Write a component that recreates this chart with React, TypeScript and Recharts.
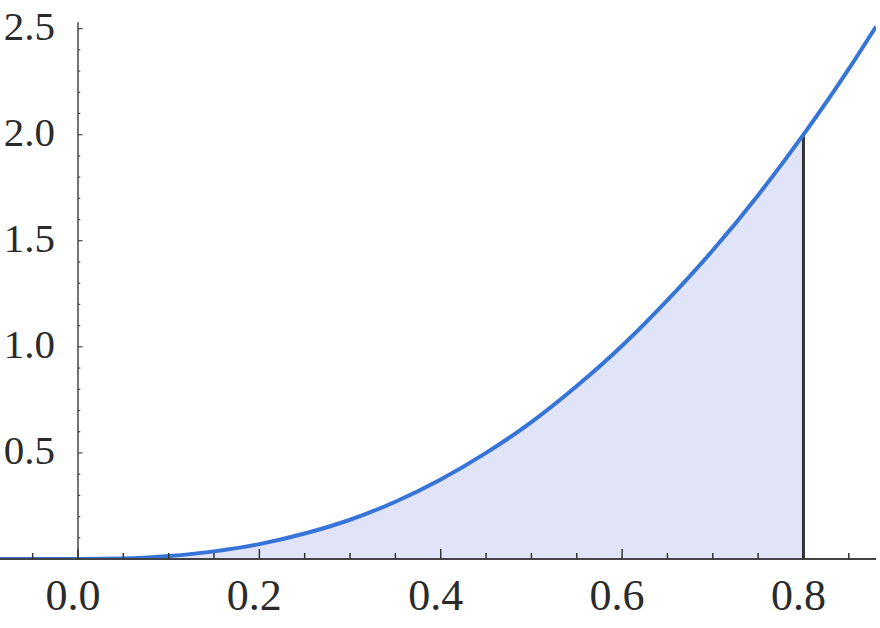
import { ComposedChart, Line, Area, XAxis, YAxis, ReferenceLine } from "recharts";

// curve samples
const xs = [-0.086, -0.05, 0, 0.05, 0.1, 0.15, 0.2, 0.25, 0.3, 0.35, 0.4, 0.45, 0.5, 0.55, 0.6, 0.65, 0.7, 0.75, 0.8, 0.85, 0.88];
const ys = [0, 0, 0, 0.002, 0.014, 0.036, 0.07, 0.12, 0.185, 0.27, 0.375, 0.5, 0.645, 0.815, 1.005, 1.22, 1.455, 1.715, 2.0, 2.31, 2.51];

const shadeFrom = 0;
const shadeTo = 0.8;

const xTicks = [-0.05, 0, 0.05, 0.1, 0.15, 0.2, 0.25, 0.3, 0.35, 0.4, 0.45, 0.5, 0.55, 0.6, 0.65, 0.7, 0.75, 0.8, 0.85];
const xLabelTicks = [0, 0.2, 0.4, 0.6, 0.8];
const yTicks = [0.5, 1, 1.5, 2, 2.5];
const yMinorTicks = [0.1, 0.2, 0.3, 0.4, 0.5, 0.6, 0.7, 0.8, 0.9, 1, 1.1, 1.2, 1.3, 1.4, 1.5, 1.6, 1.7, 1.8, 1.9, 2, 2.1, 2.2, 2.3, 2.4, 2.5];
const yAxisTop = 2.53;

const data = xs.map((x, i) => ({
  x,
  y: ys[i],
  shade: x >= shadeFrom && x <= shadeTo ? ys[i] : null,
}));
const shadeTop = ys[xs.indexOf(shadeTo)];

const font = "'Liberation Serif', 'Times New Roman', serif";
const ink = "#2b2b2b";
const yAxisWidth = 60;

function XTick({ x, y, payload }: any) {
  const v = payload.value;
  const major = xLabelTicks.some((t) => Math.abs(t - v) < 1e-9);
  return (
    <g>
      <line x1={x} y1={y} x2={x} y2={y - (major ? 10 : 6)} stroke="#333" strokeWidth={1.5} />
      {major && (
        <text x={x - 5} y={y + 51} textAnchor="middle" fontFamily={font} fontSize={44} fill={ink}>
          {v.toFixed(1)}
        </text>
      )}
    </g>
  );
}

function YTick({ x, y, payload }: any) {
  return (
    <text x={x + 55} y={y} dy={-3} textAnchor="end" dominantBaseline="central" fontFamily={font} fontSize={41} fill={ink}>
      {payload.value.toFixed(1)}
    </text>
  );
}

export default function App() {
  return (
    <div style={{ position: "absolute", left: 0, top: 0, background: "#fff" }}>
      <ComposedChart width={880} height={628} data={data} margin={{ top: 18, right: 4, bottom: 0, left: -yAxisWidth }}>
        <XAxis
          dataKey="x"
          type="number"
          domain={[-0.086, 0.88]}
          allowDataOverflow
          ticks={xTicks}
          interval={0}
          height={69}
          tickSize={0}
          tickMargin={0}
          tickLine={false}
          tick={<XTick />}
          axisLine={{ stroke: "#444", strokeWidth: 2 }}
        />
        <YAxis
          type="number"
          domain={[0, 2.55]}
          allowDataOverflow
          ticks={yTicks}
          interval={0}
          width={yAxisWidth}
          tickSize={0}
          tickMargin={0}
          tickLine={false}
          axisLine={false}
          tick={<YTick />}
        />
        <Area
          type="monotone"
          dataKey="shade"
          stroke="none"
          fill="#e1e4f8"
          fillOpacity={1}
          isAnimationActive={false}
        />
        <ReferenceLine segment={[{ x: 0, y: 0 }, { x: 0, y: yAxisTop }]} stroke="#444" strokeWidth={1.5} />
        {yMinorTicks.map((v) => (
          <ReferenceLine
            key={v}
            segment={[{ x: 0, y: v }, { x: Number.isInteger(v * 2) ? 0.005 : 0.0025, y: v }]}
            stroke="#444"
            strokeWidth={1.2}
          />
        ))}
        <ReferenceLine segment={[{ x: shadeTo, y: 0 }, { x: shadeTo, y: shadeTop }]} stroke="#333" strokeWidth={3} />
        <Line
          type="monotone"
          dataKey="y"
          stroke="#3674d8"
          strokeWidth={4}
          dot={false}
          isAnimationActive={false}
        />
      </ComposedChart>
    </div>
  );
}
